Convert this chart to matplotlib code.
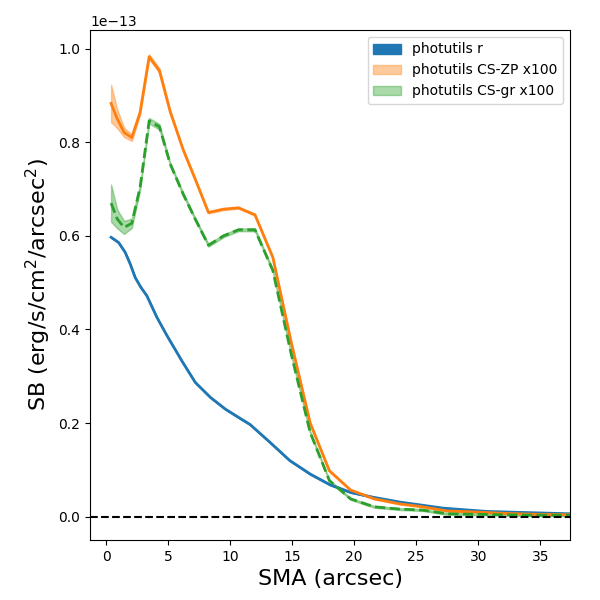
import matplotlib
matplotlib.use('Agg')
import matplotlib.pyplot as plt
import numpy as np

# perfil r (photutils), em unidades de 1e-13
sma_r = [0.40, 1.0, 1.53, 1.94, 2.34, 2.8, 3.28, 4.09, 4.9, 6.1, 7.18, 8.4,
         9.6, 10.8, 11.6, 13.2, 14.8, 16.45, 18.06, 19.7, 21.6, 23.7, 27.2,
         30.7, 37.4]
sb_r = [0.597, 0.586, 0.565, 0.540, 0.511, 0.490, 0.472, 0.426, 0.387, 0.333,
        0.287, 0.255, 0.230, 0.210, 0.197, 0.159, 0.120, 0.091, 0.068, 0.052,
        0.041, 0.031, 0.018, 0.011, 0.006]
err_r = [0.001] * len(sma_r)

# perfis CS x100
sma_cs = [0.40, 0.90, 1.45, 2.07, 2.74, 3.47, 4.30, 5.16, 6.2, 7.2, 8.25,
          9.46, 10.67, 12.0, 13.44, 14.9, 16.45, 18.0, 19.7, 21.6, 23.7, 25.5,
          27.5, 29.7, 32.0, 34.5, 37.4]
sb_zp = [0.883, 0.850, 0.821, 0.810, 0.864, 0.983, 0.953, 0.866, 0.785, 0.720,
         0.650, 0.657, 0.660, 0.645, 0.554, 0.375, 0.200, 0.098, 0.057, 0.038,
         0.027, 0.021, 0.012, 0.010, 0.007, 0.005, 0.004]
err_zp = [0.040, 0.020, 0.010, 0.007, 0.005, 0.005, 0.005, 0.003, 0.002, 0.002,
          0.002, 0.002, 0.002, 0.002, 0.002, 0.002, 0.002, 0.002, 0.001, 0.001,
          0.001, 0.001, 0.001, 0.001, 0.001, 0.001, 0.001]
sb_gr = [0.670, 0.636, 0.618, 0.627, 0.704, 0.846, 0.833, 0.754, 0.690, 0.635,
         0.580, 0.600, 0.613, 0.613, 0.526, 0.350, 0.180, 0.077, 0.038, 0.021,
         0.016, 0.014, 0.006, 0.005, 0.004, 0.003, 0.003]
err_gr = [0.040, 0.020, 0.014, 0.010, 0.006, 0.006, 0.006, 0.003, 0.003, 0.003,
          0.003, 0.003, 0.003, 0.003, 0.003, 0.003, 0.003, 0.002, 0.002, 0.002,
          0.002, 0.002, 0.002, 0.002, 0.002, 0.002, 0.002]

escala = 1e-13
x_r = np.array(sma_r)
x_cs = np.array(sma_cs)
r = np.array(sb_r) * escala
er = np.array(err_r) * escala
zp = np.array(sb_zp) * escala
ezp = np.array(err_zp) * escala
gr = np.array(sb_gr) * escala
egr = np.array(err_gr) * escala

fig, ax = plt.subplots(figsize=(6, 6), dpi=100)

ax.fill_between(x_r, r - er, r + er, color='C0', label='photutils r')
ax.plot(x_r, r, color='C0', lw=2)

ax.fill_between(x_cs, zp - ezp, zp + ezp, color='C1', alpha=0.4,
                label='photutils CS-ZP x100')
ax.plot(x_cs, zp, color='C1', lw=2)

ax.fill_between(x_cs, gr - egr, gr + egr, color='C2', alpha=0.4,
                label='photutils CS-gr x100')
ax.plot(x_cs, gr, color='C2', lw=2, ls='--')

ax.axhline(0, color='k', ls='--')

ax.set_xlim(-1.3, 37.4)
ax.set_ylim(-0.05e-13, 1.04e-13)
ax.set_xlabel('SMA (arcsec)', fontsize=16)
ax.set_ylabel('SB (erg/s/cm$^2$/arcsec$^2$)', fontsize=16)
ax.legend(loc='upper right')

plt.subplots_adjust(left=0.15, right=0.95, top=0.95, bottom=0.1)
plt.savefig('out.png')
